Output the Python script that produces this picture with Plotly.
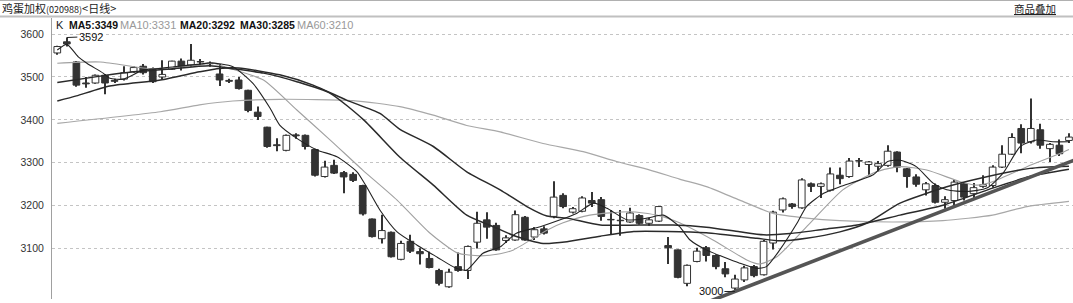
import plotly.graph_objects as go

# ---------------- data ----------------
opens  = [3556,3582,3535,3486,3486,3504,3492,3495,3512,3525,3518,3500,3518,3537,3528,3536,3532,3507,3492,3493,
          3469,3418,3383,3342,3329,3365,3364,3331,3268,3294,3277,3273,3247,3169,3123,3138,3075,3117,3093,3077,
          3049,3011,3058,3049,3115,3167,3154,3119,3120,3173,3127,3146,3175,3224,3185,3187,3212,3214,3168,3166,
          3162,3177,3159,3164,3107,3097,3019,3070,3102,3084,3053,3008,3027,3058,3039,3113,3190,3204,3195,3251,
          3245,3236,3271,3268,3305,3296,3292,3294,3325,3286,3267,3237,3247,3208,3212,3251,3228,3245,3247,3290,
          3320,3380,3349,3377,3333,3341,3352]
highs  = [3573,3592,3537,3500,3506,3507,3496,3525,3525,3530,3522,3539,3538,3543,3577,3542,3536,3530,3496,3500,
          3470,3431,3384,3357,3366,3369,3366,3333,3305,3307,3281,3278,3249,3170,3179,3140,3118,3132,3101,3093,
          3053,3053,3091,3107,3186,3185,3160,3131,3189,3176,3150,3152,3257,3229,3197,3222,3232,3220,3190,3190,
          3195,3180,3172,3199,3127,3098,3063,3102,3106,3087,3069,3039,3060,3062,3120,3188,3219,3206,3264,3254,
          3254,3289,3289,3311,3311,3304,3304,3341,3327,3288,3273,3255,3252,3222,3260,3253,3253,3271,3294,3341,
          3369,3390,3450,3391,3346,3354,3369]
lows   = [3552,3571,3477,3475,3484,3460,3486,3492,3510,3506,3486,3495,3516,3515,3524,3528,3524,3479,3486,3471,
          3418,3400,3335,3327,3327,3356,3331,3268,3266,3274,3229,3255,3177,3126,3112,3079,3073,3090,3063,3054,
          3014,3009,3046,3029,3100,3123,3095,3113,3118,3118,3120,3133,3171,3194,3182,3185,3197,3165,3132,3130,
          3160,3156,3153,3162,3064,3031,3012,3068,3070,3052,3033,3000,3022,3033,3037,3098,3184,3193,3193,3232,
          3218,3233,3250,3265,3290,3271,3279,3291,3278,3242,3244,3224,3205,3193,3201,3212,3218,3242,3242,3288,
          3318,3322,3345,3333,3302,3316,3346]
closes = [3571,3577,3481,3484,3504,3486,3490,3510,3522,3510,3489,3506,3537,3524,3539,3535,3531,3493,3490,3473,
          3422,3408,3338,3340,3364,3363,3338,3271,3290,3276,3267,3259,3181,3128,3142,3081,3112,3094,3088,3056,
          3019,3045,3049,3105,3159,3150,3097,3125,3179,3120,3144,3136,3220,3198,3193,3218,3206,3175,3167,3165,
          3183,3159,3167,3198,3102,3033,3061,3094,3084,3058,3041,3029,3055,3037,3117,3185,3216,3198,3260,3245,
          3251,3274,3263,3304,3304,3302,3298,3327,3290,3268,3250,3251,3208,3214,3255,3220,3242,3249,3290,3320,
          3359,3346,3380,3341,3343,3321,3360]

ma5_x  = [0,1,2.2,3.1,4.8,5.5,6.9,9,10.8,12.2,15,16,18.4,20.5,22.3,23.3,25.1,27.2,29.3,31.4,32.4,33.8,35.6,37.7,
          39.8,41.8,42.9,44.6,46.4,48.1,50.6,52.7,54.4,56.2,57.6,59.7,61.8,63.5,65.2,66.3,68,71.5,73.3,74.3,75.7,
          77.5,78.5,80.3,82,85.5,87,88.3,90,91.8,93.2,95.3,97.4,99.1,100.9,102.6,104.3,106]
ma5_y  = [3563,3576,3547,3532,3509,3497,3495,3516,3520,3524,3530,3533,3524,3485,3427,3388,3357,3330,3314,3279,3244,
          3190,3139,3108,3080,3054,3050,3089,3104,3136,3151,3167,3182,3206,3194,3167,3171,3178,3151,3120,3097,3066,
          3054,3058,3097,3159,3198,3229,3244,3272,3303,3306,3291,3252,3237,3233,3241,3276,3338,3353,3349,3349]
ma10_x = [0,4.5,9,10.8,14.9,16.3,18.1,21.6,25.1,28.6,32,35.6,39,41.9,44.3,46.4,47.8,51.3,53,55.8,60,62.8,65.2,
          68.7,72.3,73.6,75.4,78.9,82.3,85.8,88.3,91.1,94.6,96.3,98,101.6,105.1,106]
ma10_y = [3532,3535,3521,3520,3528,3532,3520,3493,3423,3353,3283,3213,3137,3090,3083,3088,3097,3143,3160,3178,3186,
          3178,3160,3120,3073,3064,3081,3160,3237,3279,3291,3283,3256,3248,3256,3291,3322,3331]
ma20_x = [0,4.5,8,11.5,16,18.1,21.6,25.1,28.6,32.1,35.9,39.4,42.9,45.7,48.1,50.9,53.4,56.9,60.4,63.9,68,73.3,75.7,
          78.5,82,84.8,88.3,93.2,96.7,101.9,106]
ma20_y = [3487,3502,3512,3518,3526,3520,3509,3489,3462,3400,3313,3248,3178,3151,3128,3112,3116,3129,3140,3140,3137,
          3124,3118,3124,3139,3159,3206,3244,3264,3287,3292]
ma30_x = [0,2,5.5,10.8,14.9,17,19,23.3,26.8,30.3,33.8,35.9,39.4,42.9,46.4,49.2,51.3,53.4,56.9,61,64.5,68,71.5,74,
          76.8,80.3,83.8,88.3,92.8,98,101.9,106]
ma30_y = [3444,3456,3479,3493,3512,3520,3521,3505,3481,3446,3415,3378,3338,3279,3237,3198,3176,3171,3155,3155,3155,
          3150,3139,3132,3135,3145,3155,3178,3201,3241,3268,3285]
ma60_x = [0,10.8,14.9,18.4,23.3,31,35.9,39.4,42.9,46.4,50.9,55.1,58.6,62.1,65.2,68.1,71.5,75,78.5,82,87.6,92.8,98,
          101.6,106]
ma60_y = [3392,3419,3435,3444,3448,3445,3431,3411,3387,3372,3345,3326,3303,3283,3262,3244,3213,3182,3171,3165,3162,
          3165,3178,3198,3210]

trend_x = [66, 107]
trend_y = [2957, 3310]

y_ticks = [3100, 3200, 3300, 3400, 3500, 3600]
legend_items = [("K", "#222", False), ("MA5:3349", "#111", True), ("MA10:3331", "#999", False),
                ("MA20:3292", "#111", True), ("MA30:3285", "#111", True), ("MA60:3210", "#999", False)]
title_main = "鸡蛋加权"
title_code = "(020988)"
title_period = "日线"
overlay_btn = "商品叠加"
high_mark = (1, 3592)
low_mark = (71, 3000)

# ---------------- figure ----------------
W, H = 1073, 303
ML, MT, MB = 52, 18, 4
PW, PH = W - ML, H - MT - MB

def px_x(px):
    return (px - ML) / PW

def px_y(py):
    return 1 - (py - MT) / PH

idx = list(range(len(opens)))
dark = "#333333"

fig = go.Figure()
# wicks
fig.add_trace(go.Bar(x=idx, y=[h - l for h, l in zip(highs, lows)], base=lows, width=0.11,
                     marker=dict(color=dark, line=dict(width=0)), hoverinfo="skip", showlegend=False))
# bodies
bases = [min(o, c) for o, c in zip(opens, closes)]
hts = [max(abs(c - o), 0.6) for o, c in zip(opens, closes)]
fills = ["#ffffff" if c >= o else dark for o, c in zip(opens, closes)]
fig.add_trace(go.Bar(x=idx, y=hts, base=bases, width=0.7,
                     marker=dict(color=fills, line=dict(color=dark, width=1)), hoverinfo="skip", showlegend=False))

def ma(xs, ys, color, width):
    fig.add_trace(go.Scatter(x=xs, y=ys, mode="lines", line=dict(color=color, width=width, shape="spline", smoothing=0.6),
                             hoverinfo="skip", showlegend=False))

ma(ma60_x, ma60_y, "#a8a8a8", 1.2)
ma(ma10_x, ma10_y, "#a0a0a0", 1.1)
ma(ma30_x, ma30_y, "#2a2a2a", 1.5)
ma(ma20_x, ma20_y, "#2a2a2a", 1.5)
ma(ma5_x, ma5_y, "#222222", 1.1)

fig.add_trace(go.Scatter(x=trend_x, y=trend_y, mode="lines", line=dict(color="#555555", width=3.6),
                         hoverinfo="skip", showlegend=False))

x_lo = (ML - 57.3) / 9.544
x_hi = (W - 57.3) / 9.544
fig.update_xaxes(range=[x_lo, x_hi], showticklabels=False, showgrid=False, zeroline=False, showline=False,
                 fixedrange=True)
fig.update_yaxes(range=[2982.5, 3637.5], tickvals=y_ticks, ticktext=[str(v) for v in y_ticks],
                 showgrid=True, gridcolor="#c4c4c4", griddash="dot", gridwidth=1, zeroline=False,
                 showline=True, linecolor="#a0a0a0", linewidth=1, ticks="", ticklabelstandoff=5,
                 tickfont=dict(family="Liberation Sans", size=10.5, color="#333"), fixedrange=True)

ann = []
font_cjk = "Noto Sans CJK SC"
ann.append(dict(xref="paper", yref="paper", x=px_x(0), y=px_y(8.5), xanchor="left", yanchor="middle",
                text=title_main + "<span style='font-size:9px'>" + title_code + "</span>&lt;" + title_period + "&gt;",
                showarrow=False, font=dict(family=font_cjk, size=11, color="#222")))
ann.append(dict(xref="paper", yref="paper", x=px_x(1058), y=px_y(8.5), xanchor="right", yanchor="middle",
                text="<u>" + overlay_btn + "</u>", showarrow=False, font=dict(family=font_cjk, size=10.5, color="#222")))
leg_px = [54, 67, 118, 178, 238, 295]
for (txt, col, bold), xp in zip(legend_items, leg_px):
    ann.append(dict(xref="paper", yref="paper", x=px_x(xp), y=px_y(25), xanchor="left", yanchor="middle",
                    text=("<b>%s</b>" % txt) if bold else txt, showarrow=False,
                    font=dict(family="Liberation Sans", size=10.5 if bold else 11, color=col)))
ann.append(dict(x=high_mark[0], y=high_mark[1], text=str(high_mark[1]), showarrow=True, arrowhead=0,
                arrowwidth=1, arrowcolor="#222", ax=24, ay=-1, font=dict(family="Liberation Sans", size=11, color="#111")))
ann.append(dict(x=low_mark[0], y=low_mark[1], text=str(low_mark[1]), showarrow=True, arrowhead=0,
                arrowwidth=1, arrowcolor="#222", ax=-24, ay=0, font=dict(family="Liberation Sans", size=11, color="#111")))

shapes = [
    dict(type="line", xref="paper", yref="paper", x0=px_x(0), x1=1, y0=px_y(0.5), y1=px_y(0.5),
         line=dict(color="#b0b0b0", width=1)),
    dict(type="line", xref="paper", yref="paper", x0=px_x(0), x1=1, y0=px_y(16.5), y1=px_y(16.5),
         line=dict(color="#c0c0c0", width=2)),
]

fig.update_layout(width=W, height=H, margin=dict(l=ML, r=0, t=MT, b=MB, pad=0),
                  plot_bgcolor="white", paper_bgcolor="white", barmode="overlay",
                  annotations=ann, shapes=shapes, showlegend=False)

fig.write_html("out.html", config={"displayModeBar": False})
